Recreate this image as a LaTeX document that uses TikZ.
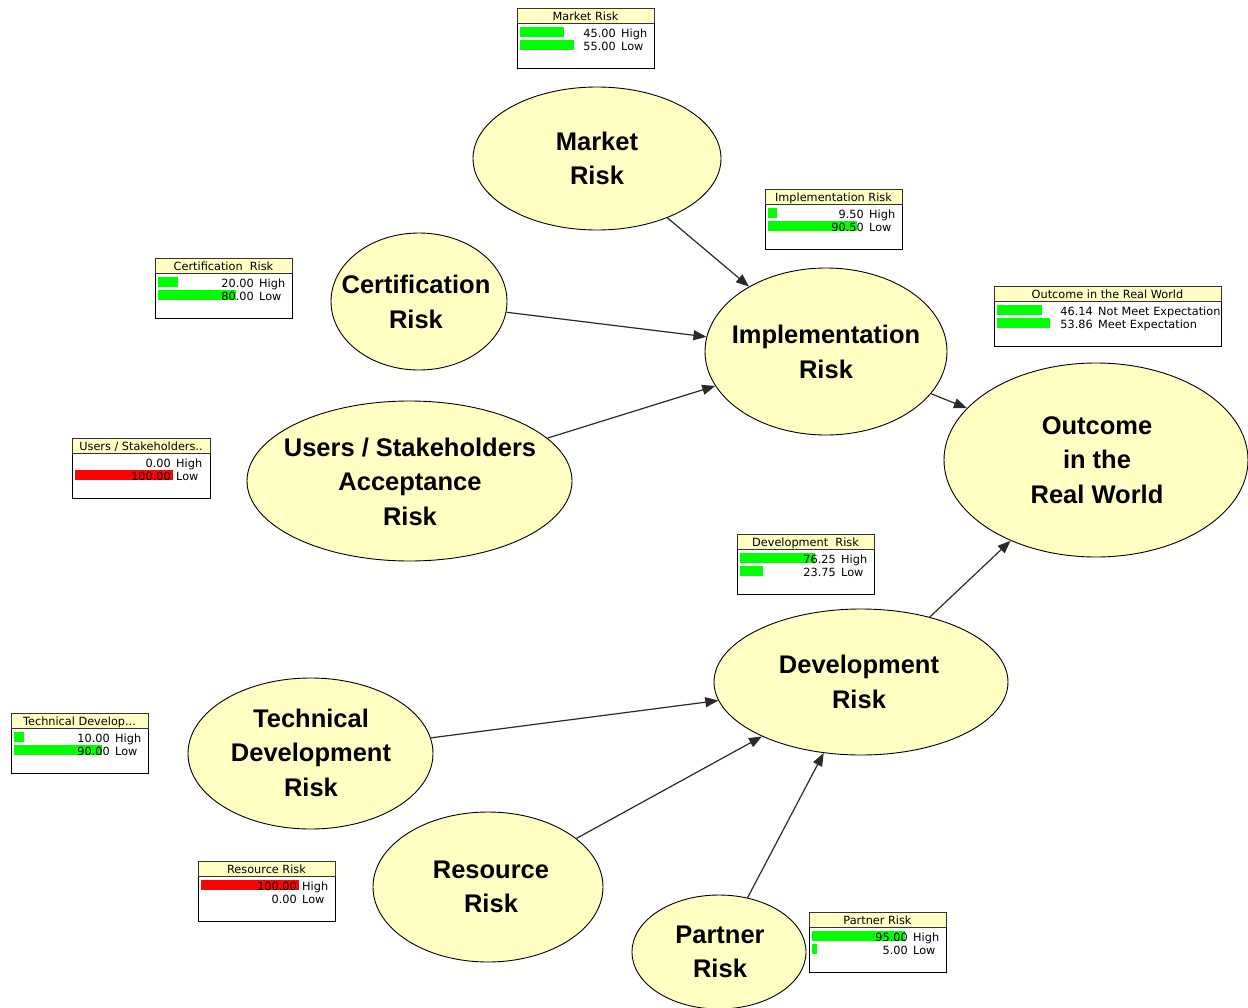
\documentclass[tikz,border=0pt]{standalone}
\usepackage{fontspec}
\setmainfont{Liberation Sans}
\newfontfamily\boxfont{DejaVu Sans}
\usetikzlibrary{shapes.geometric,arrows.meta}
\definecolor{nodefill}{HTML}{FFFFC3}
\definecolor{bargreen}{HTML}{00FF00}
\definecolor{barred}{HTML}{FF0000}
\definecolor{edgecol}{HTML}{2A2A2A}
\tikzset{
  ell/.style={ellipse, draw=black, line width=0.9pt, fill=nodefill, inner sep=0pt},
  elltext/.style={align=center, inner sep=0pt, font=\fontsize{25.5}{34.5}\selectfont\bfseries},
  edge/.style={draw=edgecol, line width=1.2pt, -{Triangle[length=13pt,width=10pt]}},
  monbox/.style={draw=black, line width=0.9pt, fill=white, anchor=north west, minimum height=60pt, inner sep=0pt},
  montitle/.style={draw=black!80, line width=0.7pt, fill=nodefill, anchor=north west, minimum height=15pt, inner sep=0pt, font=\boxfont\fontsize{11.3}{12}\selectfont},
  montext/.style={inner sep=0pt, font=\boxfont\fontsize{11.3}{12}\selectfont}
}
\newcommand{\monbox}[9]{%
  \ifdim #6pt=100pt\def\colA{barred}\else\def\colA{bargreen}\fi
  \ifdim #8pt=100pt\def\colB{barred}\else\def\colB{bargreen}\fi
  \node[monbox, minimum width=#4pt] (#1) at (#2,#3) {};
  \node[montitle, minimum width=#4pt] (#1-t) at (#2,#3) {};
  \node[montext, anchor=base] (#1-tt) at (#2+#4/2,#3+12) {#5};
  \ifdim #6pt>0pt \fill[\colA] (#2+3,#3+19) rectangle ++(#6*0.98,10);\fi
  \ifdim #8pt>0pt \fill[\colB] (#2+3,#3+32) rectangle ++(#8*0.98,10);\fi
  \node[montext, anchor=base east] (#1-v1) at (#2+99,#3+29) {#6};
  \node[montext, anchor=base west] (#1-s1) at (#2+104,#3+29) {#7};
  \node[montext, anchor=base east] (#1-v2) at (#2+99,#3+42) {#8};
  \node[montext, anchor=base west] (#1-s2) at (#2+104,#3+42) {#9};
}
\begin{document}
\begin{tikzpicture}[x=1pt,y=-1pt]
\fill[white] (0,0) rectangle (1248,1007);
\useasboundingbox (0,0) rectangle (1248,1007);

% ellipses
\node[ell, minimum width=248pt, minimum height=143pt] (mkt) at (597,158.5) {};
\node[ell, minimum width=176pt, minimum height=137pt] (cert) at (419,301.5) {};
\node[ell, minimum width=325pt, minimum height=160pt] (users) at (409.5,481) {};
\node[ell, minimum width=242pt, minimum height=167pt] (impl) at (826,351.5) {};
\node[ell, minimum width=304pt, minimum height=194pt] (out) at (1096,460) {};
\node[ell, minimum width=294pt, minimum height=146pt] (dev) at (861,682) {};
\node[ell, minimum width=245pt, minimum height=151pt] (tech) at (310.5,753.5) {};
\node[ell, minimum width=230pt, minimum height=150pt] (res) at (488,887) {};
\node[ell, minimum width=174pt, minimum height=114pt] (part) at (719,952) {};

% labels
\node[elltext] (mkt-l) at (597,158.5) {Market\\Risk};
\node[elltext] (cert-l) at (416,302) {Certification\\Risk};
\node[elltext] (users-l) at (410,481.5) {Users / Stakeholders\\Acceptance\\Risk};
\node[elltext] (impl-l) at (826,352) {Implementation\\Risk};
\node[elltext] (out-l) at (1097,460) {Outcome\\in the\\Real World};
\node[elltext] (dev-l) at (859,682) {Development\\Risk};
\node[elltext] (tech-l) at (311,752.5) {Technical\\Development\\Risk};
\node[elltext] (res-l) at (491,887) {Resource\\Risk};
\node[elltext] (part-l) at (720,952) {Partner\\Risk};

% edges
\draw[edge] (mkt) -- (impl);
\draw[edge] (cert) -- (impl);
\draw[edge] (users) -- (impl);
\draw[edge] (impl) -- (out);
\draw[edge] (dev) -- (out);
\draw[edge] (tech) -- (dev);
\draw[edge] (res) -- (dev);
\draw[edge] (part) -- (dev);

% monitor boxes
\monbox{bmkt}{517}{8}{137}{Market Risk}{45.00}{High}{55.00}{Low}
\monbox{bcert}{155}{258}{137}{Certification\ \ Risk}{20.00}{High}{80.00}{Low}
\monbox{busers}{72}{438}{138}{Users / Stakeholders..}{0.00}{High}{100.00}{Low}
\monbox{bimpl}{765}{189}{137}{Implementation Risk}{9.50}{High}{90.50}{Low}
\monbox{bout}{994}{286}{227}{Outcome in the Real World}{46.14}{Not Meet Expectation}{53.86}{Meet Expectation}
\monbox{bdev}{737}{534}{137}{Development\ \ Risk}{76.25}{High}{23.75}{Low}
\monbox{btech}{11}{713}{137}{Technical Develop...}{10.00}{High}{90.00}{Low}
\monbox{bres}{198}{861}{137}{Resource Risk}{100.00}{High}{0.00}{Low}
\monbox{bpart}{809}{912}{137}{Partner Risk}{95.00}{High}{5.00}{Low}
\end{tikzpicture}
\end{document}
